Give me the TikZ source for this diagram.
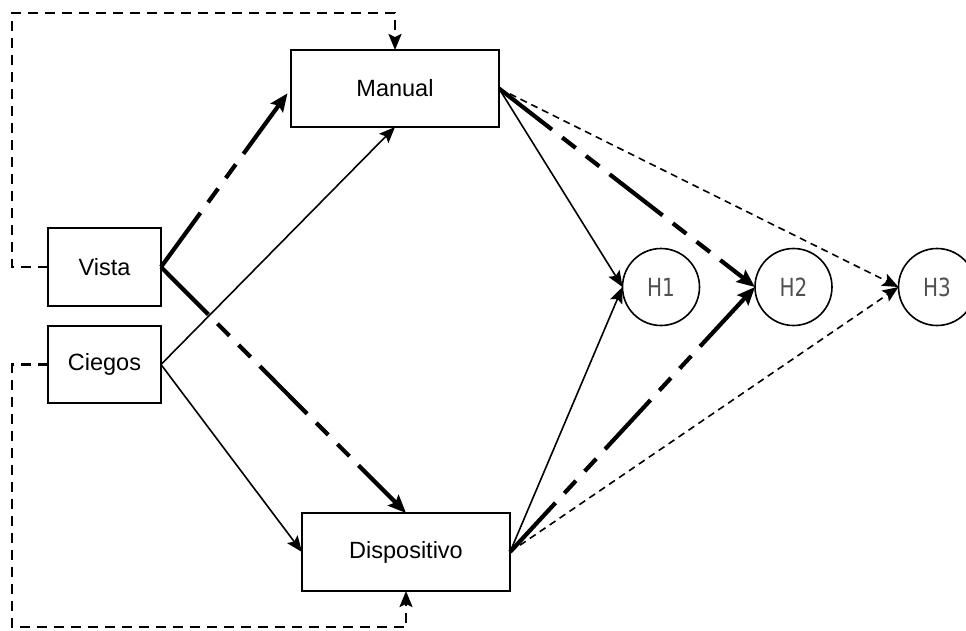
\documentclass[tikz,border=0pt]{standalone}
\usepackage{fontspec}
\setmainfont{Liberation Sans}
\newfontfamily\hfont[FakeStretch=0.8]{DejaVu Sans}
\usetikzlibrary{arrows.meta}
\definecolor{hgray}{HTML}{505050}
\tikzset{
  box/.style={draw, line width=2pt, inner sep=0pt, outer sep=0pt, font=\fontsize{23.5}{28}\selectfont},
  hyp/.style={circle, draw, line width=1.6pt, minimum size=77pt, inner sep=0pt, outer sep=0pt, text=hgray, font=\hfont\fontsize{25}{29}\selectfont},
  thinarr/.style={line width=1.6pt, -{Stealth[length=16pt,width=13pt,inset=3pt]}},
  thickarr/.style={line width=4.2pt, dash pattern=on 67pt off 13pt on 17pt off 13pt on 17pt off 13pt, -{Stealth[length=18pt,width=15pt,inset=3pt]}},
  looparr/.style={line width=2.2pt, dash pattern=on 10pt off 7pt, -{Stealth[length=16pt,width=13pt,inset=3pt]}},
  dasharr/.style={line width=1.6pt, dash pattern=on 7pt off 5pt, -{Stealth[length=16pt,width=13pt,inset=3pt]}}
}
\begin{document}
\begin{tikzpicture}[x=1pt,y=-1pt]
\useasboundingbox (0,0) rectangle (966,630);
\node[box, minimum width=208pt, minimum height=77pt] (man) at (395,88.5) {Manual};
\node[box, minimum width=113pt, minimum height=78pt] (vis) at (104.5,267) {Vista};
\node[box, minimum width=113pt, minimum height=77pt] (cie) at (104.5,364.5) {Ciegos};
\node[box, minimum width=208pt, minimum height=78pt] (dis) at (406,552) {Dispositivo};
\node[hyp] (h1) at (661,287) {H1};
\node[hyp] (h2) at (793.5,287) {H2};
\node[hyp] (h3) at (937,287) {H3};
\coordinate (lt) at (12,13);
\coordinate (lb) at (12,627);
% feedback loops
\draw[looparr] (vis.west) -| (lt) -| (man.north);
\draw[looparr] (cie.west) -| (lb) -| (dis.south);
% inputs
\draw[thickarr, shorten >=6pt] (vis.east) -- (man.west);
\draw[thickarr] (vis.east) -- (dis.north);
\draw[thinarr] (cie.east) -- (man.south);
\draw[thinarr] (cie.east) -- (dis.west);
% to hypotheses
\draw[thinarr] (man.east) -- (h1.west);
\draw[thickarr] (man.east) -- (h2.west);
\draw[dasharr] (man.east) -- (h3.west);
\draw[thinarr] (dis.east) -- (h1.west);
\draw[thickarr] (dis.east) -- (h2.west);
\draw[dasharr] (dis.east) -- (h3.west);
\end{tikzpicture}
\end{document}
